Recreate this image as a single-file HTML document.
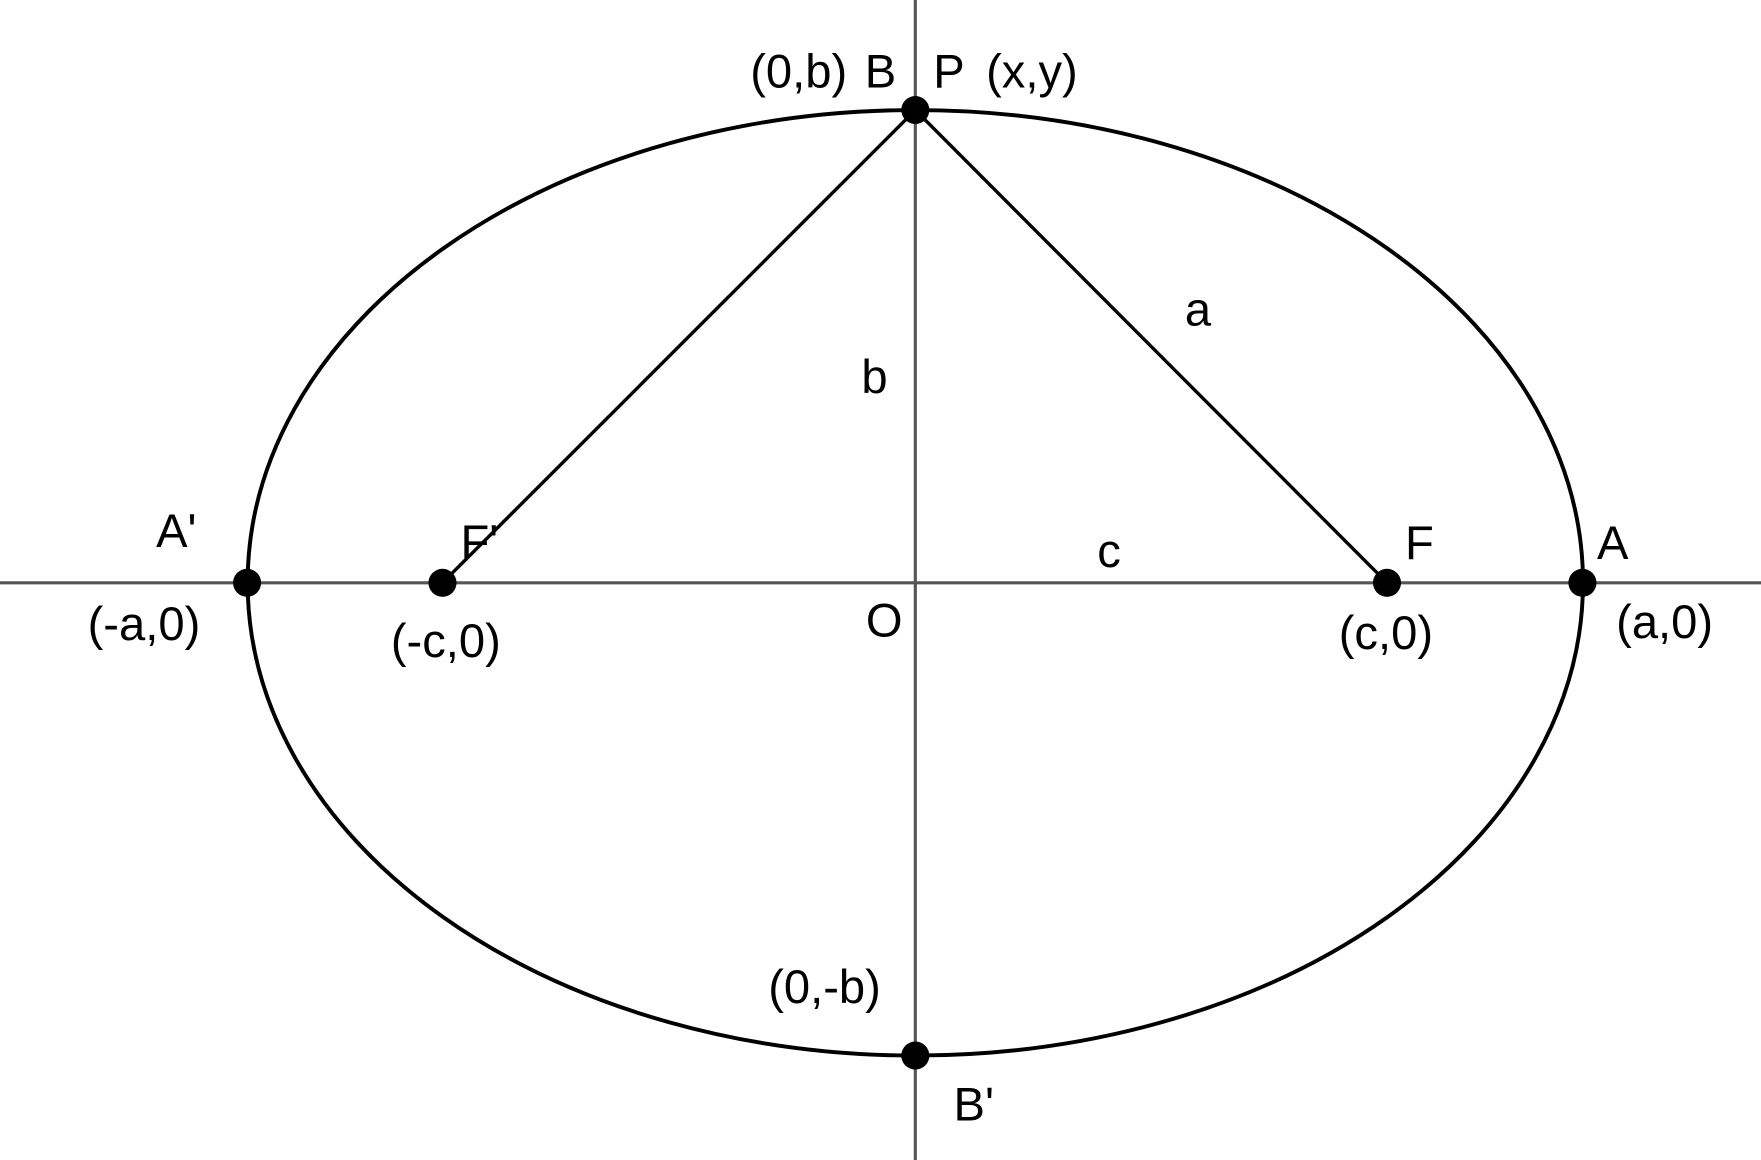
<!DOCTYPE html>
<html><head><meta charset="utf-8"><style>
html,body{margin:0;padding:0;background:#fff;}
svg{display:block;}
text{font-family:"Liberation Sans",Arial,sans-serif;font-size:42px;fill:#000;}
</style></head><body>
<svg width="1761" height="1160" viewBox="0 0 1568 1033" preserveAspectRatio="none" xmlns="http://www.w3.org/2000/svg">
<line x1="0" y1="519" x2="1568" y2="519" stroke="#555" stroke-width="2.8"/>
<line x1="815" y1="0" x2="815" y2="1033" stroke="#555" stroke-width="2.8"/>
<ellipse cx="815" cy="519" rx="594.5" ry="421" fill="none" stroke="#000" stroke-width="3.5"/>
<line x1="394" y1="519" x2="815" y2="98" stroke="#000" stroke-width="3"/>
<line x1="1235" y1="519" x2="815" y2="98" stroke="#000" stroke-width="3"/>
<g fill="#000">
<circle cx="815" cy="98" r="12.5"/>
<circle cx="815" cy="940" r="12.5"/>
<circle cx="220" cy="519" r="12.5"/>
<circle cx="1409" cy="519" r="12.5"/>
<circle cx="394" cy="519" r="12.5"/>
<circle cx="1235" cy="519" r="12.5"/>
</g>
<text x="668" y="78">(0,b)</text>
<text x="770" y="78">B</text>
<text x="831" y="78">P</text>
<text x="878" y="78">(x,y)</text>
<text x="1055" y="290">a</text>
<text x="767" y="350">b</text>
<text x="139" y="487">A'</text>
<text x="410" y="497">F'</text>
<text x="977" y="505">c</text>
<text x="1251" y="498">F</text>
<text x="1422" y="498">A</text>
<text x="78" y="570">(-a,0)</text>
<text x="348" y="585">(-c,0)</text>
<text x="771" y="567">O</text>
<text x="1192" y="578">(c,0)</text>
<text x="1439" y="568">(a,0)</text>
<text x="684" y="893">(0,-b)</text>
<text x="849" y="998">B'</text>
</svg>
</body></html>
